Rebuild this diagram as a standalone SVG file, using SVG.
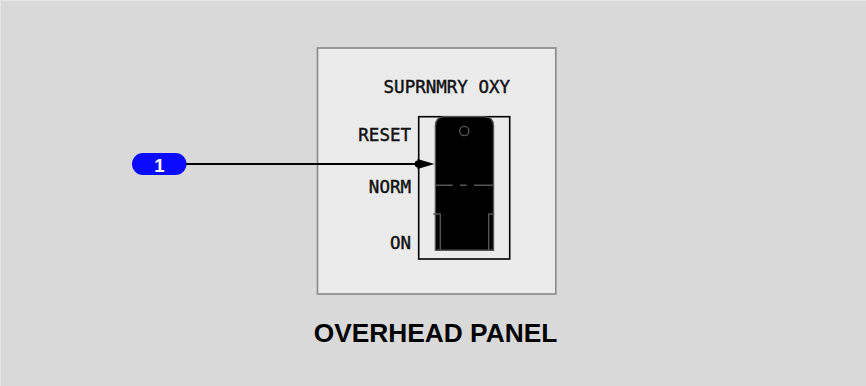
<svg xmlns="http://www.w3.org/2000/svg" width="866" height="386" viewBox="0 0 866 386">
<style>
.mono{font-family:"DejaVu Sans Mono","Liberation Mono",monospace;font-size:17.5px;fill:#111;stroke:#111;stroke-width:0.45;text-anchor:end}
.title{font-family:"Liberation Sans",Arial,sans-serif;font-weight:bold;font-size:26.3px;fill:#000;text-anchor:middle}
.badge{font-family:"Liberation Sans",Arial,sans-serif;font-weight:bold;font-size:18.5px;fill:#fff;text-anchor:middle}
.tg{fill:none;stroke:#555;stroke-width:1.4}
</style>
<rect x="0" y="0" width="866" height="386" fill="#d9d9d9"/>
<path d="M0.5 386V0.5H866" fill="none" stroke="#e6e6e6" stroke-width="1"/>
<g id="panel">
<rect x="317.5" y="48" width="238.3" height="246" fill="#ebebeb" stroke="#8c8c8c" stroke-width="1.7"/>
<text class="mono" x="510" y="93">SUPRNMRY OXY</text>
<text class="mono" x="411" y="141">RESET</text>
<text class="mono" x="411" y="193">NORM</text>
<text class="mono" x="411" y="249">ON</text>
</g>
<g id="switch">
<rect x="418.7" y="116.7" width="91" height="142.3" fill="none" stroke="#000" stroke-width="1.6"/>
<path d="M435.4 250.3V126Q435.4 116.6 444.8 116.6H484.1Q493.5 116.6 493.5 126V250.3Z" fill="#000" stroke="#555" stroke-width="1.4"/>
<circle cx="464.3" cy="131" r="4.6" class="tg"/>
<path d="M435.4 185.3H452.7M460 185.3H466.7M474 185.3H493.5" class="tg"/>
<path d="M433.3 214H440.3V250.3M494.3 214H488.7V250.3" class="tg"/>
</g>
<g id="badge1">
<rect x="132" y="153" width="54.5" height="22" rx="11" fill="#0a0aff"/>
<text class="badge" x="159.5" y="171.5">1</text>
</g>
<g id="connectors">
<line x1="186" y1="164" x2="420" y2="164" stroke="#000" stroke-width="2"/>
<circle cx="418" cy="164" r="3.4" fill="#000"/>
<path d="M417.5 159L434.5 164L417.5 169Z" fill="#000"/>
</g>
<text class="title" x="435.5" y="342">OVERHEAD PANEL</text>
</svg>
